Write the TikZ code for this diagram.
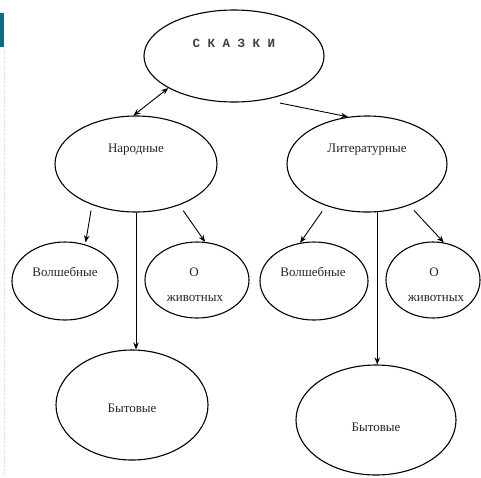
\documentclass[tikz,border=0pt]{standalone}
\usepackage{fontspec}
\setmainfont{Liberation Serif}
\newfontfamily\monofont{Liberation Mono}
\usetikzlibrary{shapes.geometric,arrows.meta,calc}
\definecolor{barcol}{HTML}{0E6A82}
\begin{document}
\begin{tikzpicture}[x=1pt,y=-1pt,
  el/.style={draw, ellipse, line width=1.1pt, inner sep=0pt},
  lbl/.style={font=\fontsize{13}{14}\selectfont, inner sep=0pt, text=black!85},
  tip/.tip={Stealth[length=7pt,width=5.5pt]},
  arr/.style={-tip, line width=0.9pt}]
\useasboundingbox (0,0) rectangle (481,477);
\fill[white] (0,0) rectangle (481,477);
\fill[barcol] (0,13) rectangle (4,47);
\draw[gray!35, dotted] (4.5,50) -- (4.5,477);

\node[el, minimum width=180pt, minimum height=92pt] (top) at (234,56) {};
\node[el, minimum width=162pt, minimum height=96pt] (nar) at (136,164) {};
\node[el, minimum width=160pt, minimum height=96pt] (lit) at (367,164) {};
\node[el, minimum width=106pt, minimum height=78pt] (vol1) at (65,281) {};
\node[el, minimum width=104pt, minimum height=76pt] (oz1) at (197,280) {};
\node[el, minimum width=108pt, minimum height=78pt] (vol2) at (314,281) {};
\node[el, minimum width=94pt, minimum height=76pt] (oz2) at (433,280) {};
\node[el, minimum width=152pt, minimum height=110pt] (byt1) at (132,405) {};
\node[el, minimum width=160pt, minimum height=110pt] (byt2) at (376,420) {};

\node[lbl, font=\monofont\bfseries\fontsize{12.5}{13}\selectfont, text=black!75] (t0) at (234,43) {С К А З К И};
\node[lbl] (t1) at (136,150) {Народные};
\node[lbl] (t2) at (367,150) {Литературные};
\node[lbl] (t3) at (65,272) {Волшебные};
\node[lbl] (t4) at (194,272) {О};
\node[lbl] (t5) at (195,298) {животных};
\node[lbl] (t6) at (313,272) {Волшебные};
\node[lbl] (t7) at (434,272) {О};
\node[lbl] (t8) at (436,298) {животных};
\node[lbl] (t9) at (132,408) {Бытовые};
\node[lbl] (t10) at (376,427) {Бытовые};

\draw[tip-tip, line width=0.9pt] (top.206.6) -- (nar.93.7);
\draw[arr] ($(top.-41.6)+(0,7)$) -- (lit.112.2);
\draw[arr, shorten >=2pt] ($(nar.222.3)+(0,6)$) -- (vol1.61);
\draw[arr] ($(nar.-40.7)+(0,7)$) -- (oz1.78);
\draw[arr] (nar.south) -- (nar.south |- byt1.north);
\draw[arr] ($(lit.222.3)+(0,7)$) -- (vol2.110.4);
\draw[arr] ($(lit.-40.3)+(0,7)$) -- (oz2.74.9);
\draw[arr] (lit.-78.1) -- (lit.-78.1 |- byt2.north);
\end{tikzpicture}
\end{document}
